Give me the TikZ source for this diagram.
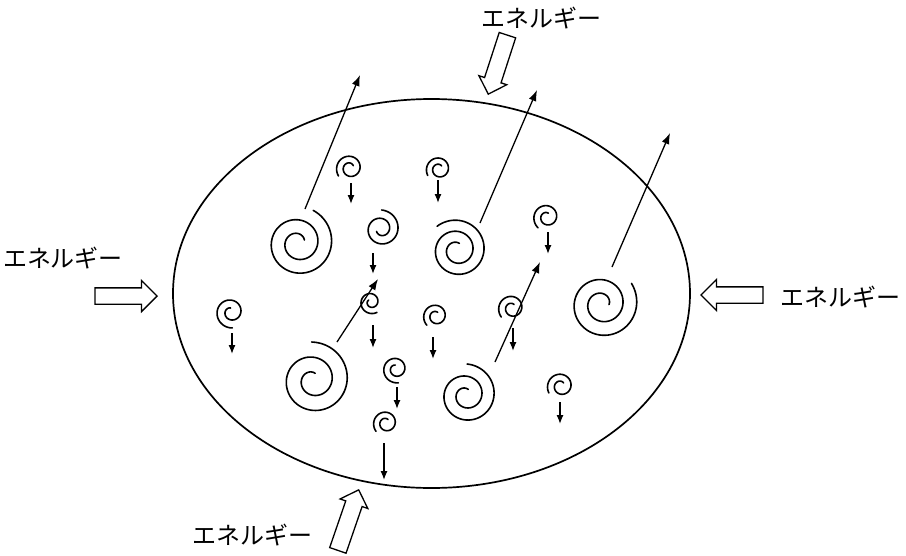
\documentclass[tikz,border=0pt]{standalone}
\usepackage{fontspec}
\newfontfamily\jpfont{Noto Sans CJK JP}
\usetikzlibrary{arrows.meta,shapes.arrows}

\begin{document}
\begin{tikzpicture}[x=1pt,y=-1pt,>={Latex[length=11pt,width=8pt]},
  curl/.style={line width=1.6pt,line cap=round,line join=round},
  move/.style={->,line width=1.3pt},
  fall/.style={->,line width=1.3pt,>={Latex[length=9pt,width=7pt]}},
  energy/.style={single arrow,draw,line width=1.3pt,inner xsep=0pt,inner ysep=7.5pt,
    anchor=tip,minimum height=62pt,single arrow head extend=7.5pt},
  word/.style={font=\jpfont\fontsize{24}{24}\selectfont}]
  \useasboundingbox (0,0) rectangle (906,555);
  \draw[line width=1.7pt] (431.5,293.5) ellipse [x radius=258.5, y radius=194.5];

  % spirals: name/x/y/outer r/start angle/sweep/inner r
  \foreach \n/\cx/\cy/\ro/\st/\sw/\ri in {
      big1/298/243/36/295/760/7, big2/457/250/31/230/780/7,
      big3/602/304/36/325/760/7, big4/313/380/38/268/740/7,
      big5/466/395/31/272/740/6, mid/381/229/19/272/600/5,
      sa/350/168/14/145/540/4, sb/439/169/13/150/520/4,
      sd/547/217/14/130/520/4, se/231/312/16/85/540/4,
      sf/371/302/12/60/520/3, sg/436/316/13/135/520/4,
      sh/512/308/14/140/520/4, si/396/369/14/80/540/4,
      sj/386/423/13/140/520/4, sk/561/386/14/150/520/4}{
    \coordinate (\n) at (\cx,\cy);
    \draw[curl,shift={(\n)}] plot[domain=0:\sw,samples=160]
      ({\st+\x}:{\ro-(\ro-\ri)*(\x/\sw)});
  }

  % fast ones leave the body
  \foreach \n/\tx/\ty/\hx/\hy in {big1/305/209/360/75, big2/480/223/537/90,
      big3/612/267/670/133, big4/337/342/378/279, big5/495/362/540/262}{
    \coordinate (\n-out) at (\tx,\ty);
    \coordinate (\n-to) at (\hx,\hy);
    \draw[move] (\n-out) -- (\n-to);
  }
  % slow ones sink
  \foreach \n/\tx/\ty/\hy in {mid/373/253/274, sa/351/183/204, sb/438/180/203,
      sd/548/232/254, se/232/333/354, sf/373/325/348, sg/433/337/359,
      sh/513/328/351, si/397/387/409, sj/384/443/480, sk/560/402/424}{
    \coordinate (\n-out) at (\tx,\ty);
    \coordinate (\n-to) at (\tx,\hy);
    \draw[fall] (\n-out) -- (\n-to);
  }

  \node[energy] (inW) at (158,296) {};
  \node[energy,rotate=180] (inE) at (700,295) {};
  \node[energy,rotate=252,inner ysep=8pt,single arrow head extend=6pt] (inN) at (488,95) {};
  \node[energy,rotate=71,inner ysep=8pt,single arrow head extend=6pt,minimum height=64pt] (inS) at (359,489) {};

  \node[word] (tN) at (541,18) {エネルギー};
  \node[word] (tW) at (63,258) {エネルギー};
  \node[word] (tE) at (840,297) {エネルギー};
  \node[word] (tS) at (252,535) {エネルギー};
\end{tikzpicture}
\end{document}
